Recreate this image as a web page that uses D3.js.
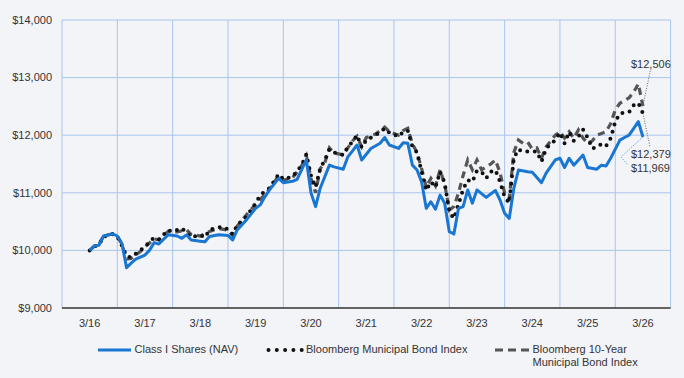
<!DOCTYPE html>
<html>
<head>
<meta charset="utf-8">
<script src="https://cdn.jsdelivr.net/npm/d3@7"></script>
<style>
  body { margin: 0; background: #f3f4f8; }
  svg { display: block; font-family: "Liberation Sans", Arial, sans-serif; }
</style>
</head>
<body>
<div id="chart"></div>
<script>
// months counted from 3/16 (0) to 3/26 (120)
var tickLabels = ["3/16","3/17","3/18","3/19","3/20","3/21","3/22","3/23","3/24","3/25","3/26"];
var yTicks = [9000, 10000, 11000, 12000, 13000, 14000];

var classMonths = [0,1,2,3,5,6,7,8,9,10,12,13,14,15,17,19,20,21,22,24,25,26,28,30,31,32,34,36,37,38,39,41,42,44,45,47,48,49,50,52,53,55,56,58,59,61,63,64,65,67,68,69,70,71,72,73,74,75,76,77,78,79,80,81,82,83,84,86,88,89,90,91,92,93,95,96,98,99,101,102,103,104,105,107,108,110,111,112,113,115,116,117,119,120];
var classValues = [10000,10080,10090,10250,10285,10250,10120,9700,9780,9850,9920,10005,10135,10110,10270,10250,10210,10270,10180,10160,10150,10240,10270,10260,10180,10355,10530,10730,10790,10930,11050,11250,11175,11200,11235,11570,11000,10760,11080,11480,11450,11410,11625,11830,11570,11770,11860,11960,11830,11770,11870,11860,11480,11395,11190,10730,10845,10715,10960,10820,10325,10285,10730,10760,11050,10820,11050,10920,11040,10875,10645,10555,11080,11395,11365,11355,11175,11340,11570,11600,11440,11600,11480,11655,11440,11410,11480,11465,11600,11915,11960,12000,12235,11969];

var muniMonths = [0,1,2,3,5,6,7,8,9,11,12,14,15,17,18,20,21,22,23,24,25,26,27,29,30,31,32,34,36,37,39,41,42,44,46,47,48,49,50,51,52,53,55,56,57,58,59,60,62,64,65,67,68,69,70,71,72,73,74,75,76,77,78,79,80,81,82,83,84,85,86,87,88,89,90,91,92,93,94,96,97,98,99,101,102,103,104,105,106,107,108,109,110,111,112,113,114,115,116,117,118,119,120];
var muniValues = [10000,10070,10090,10240,10280,10240,10080,9900,9880,10000,10065,10225,10190,10355,10325,10385,10305,10225,10250,10270,10225,10355,10385,10410,10365,10280,10440,10585,10820,10960,11080,11325,11235,11280,11480,11670,11300,11095,11420,11570,11755,11700,11655,11800,11885,12000,11785,11915,12000,12120,12045,11975,12060,12080,11800,11700,11365,11040,11190,11095,11365,11175,10670,10555,10800,11060,11220,11190,11385,11365,11250,11365,11395,11190,10930,10820,11600,11755,11715,11715,11715,11540,11770,11915,12045,11860,12060,11905,11975,12100,11960,11770,11790,11850,11810,11945,12235,12380,12390,12400,12520,12560,12379];

var tenYrMonths = [0,1,2,3,5,6,7,8,9,11,12,14,15,17,19,21,22,24,26,28,30,31,32,34,36,38,39,41,42,44,46,47,48,49,50,51,52,53,55,56,57,58,59,60,62,64,65,67,68,69,70,71,72,73,74,75,76,77,78,79,80,81,82,83,84,85,86,87,88,89,90,91,92,93,94,95,96,97,98,99,100,101,102,103,104,105,106,107,108,109,110,111,112,113,114,115,116,117,118,119,120];
var tenYrValues = [10000,10070,10100,10250,10290,10250,10100,9850,9860,9980,10060,10200,10180,10330,10320,10360,10280,10250,10330,10380,10350,10260,10420,10620,10800,10970,11060,11300,11220,11260,11470,11640,11250,11000,11420,11520,11780,11690,11660,11780,11900,11980,11800,11960,12020,12140,12060,12000,12080,12120,11850,11700,11420,11100,11250,11120,11400,11150,10700,10760,11000,11300,11570,11400,11570,11400,11450,11500,11570,11350,11000,10900,11700,11915,11860,11880,11760,11780,11600,11800,11900,12000,12060,11950,12060,11950,12090,11950,11860,11900,12000,12030,12060,12200,12440,12555,12600,12650,12750,12890,12506];

var W = 684, H = 378;
var margin = {left: 62, right: 13.4, top: 20, bottom: 70};

var svg = d3.select("#chart").append("svg")
  .attr("width", W).attr("height", H);

var x = d3.scaleLinear().domain([-6, 126]).range([margin.left, W - margin.right]);
var y = d3.scaleLinear().domain([9000, 14000]).range([H - margin.bottom, margin.top]);

var gridColor = "#a9c5ee";

// horizontal grid
svg.append("g").selectAll("line")
  .data(yTicks.slice(1))
  .enter().append("line")
  .attr("x1", x(-6)).attr("x2", x(126))
  .attr("y1", function(d){ return y(d); }).attr("y2", function(d){ return y(d); })
  .style("stroke", gridColor).style("stroke-width", "1px");

// vertical grid at band edges
var vgrid = d3.range(-6, 127, 12);
svg.append("g").selectAll("line")
  .data(vgrid)
  .enter().append("line")
  .attr("x1", function(d){ return x(d); }).attr("x2", function(d){ return x(d); })
  .attr("y1", y(14000)).attr("y2", y(9000))
  .style("stroke", gridColor).style("stroke-width", "1px");

// bottom axis line
svg.append("line")
  .attr("x1", x(-6)).attr("x2", x(126))
  .attr("y1", y(9000)).attr("y2", y(9000))
  .style("stroke", "#333").style("stroke-width", "1.5px");

// y labels
var fmt = d3.format(",");
svg.append("g").selectAll("text")
  .data(yTicks)
  .enter().append("text")
  .attr("x", 52).attr("y", function(d){ return y(d); })
  .attr("dy", "0.35em")
  .attr("text-anchor", "end")
  .style("font-size", "11px").attr("fill", "#333")
  .text(function(d){ return "$" + fmt(d); });

// x labels
svg.append("g").selectAll("text")
  .data(tickLabels)
  .enter().append("text")
  .attr("x", function(d, i){ return x(i * 12); })
  .attr("y", 323).attr("dy", "0.35em")
  .attr("text-anchor", "middle")
  .style("font-size", "11px").attr("fill", "#333")
  .text(function(d){ return d; });

function pts(ms, vs){ return ms.map(function(m, i){ return [m, vs[i]]; }); }
var line = d3.line().x(function(d){ return x(d[0]); }).y(function(d){ return y(d[1]); });

// 10-year index (dashed)
svg.append("path")
  .attr("d", line(pts(tenYrMonths, tenYrValues)))
  .style("fill", "none").style("stroke", "#555")
  .style("stroke-width", "3.2px").style("stroke-dasharray", "7,5");

// municipal index (dotted)
svg.append("path")
  .attr("d", line(pts(muniMonths, muniValues)))
  .style("fill", "none").style("stroke", "#111")
  .style("stroke-width", "4px").style("stroke-linecap", "round")
  .style("stroke-dasharray", "0,7.5");

// class I shares
svg.append("path")
  .attr("d", line(pts(classMonths, classValues)))
  .style("fill", "none").style("stroke", "#1976d2")
  .style("stroke-width", "3px").style("stroke-linejoin", "round");

// end labels with leader lines
var lastT = tenYrValues[tenYrValues.length - 1];
var lastM = muniValues[muniValues.length - 1];
var lastC = classValues[classValues.length - 1];

svg.append("path")
  .attr("d", "M" + x(120) + "," + y(lastT) + "L650.7,69")
  .style("fill", "none").style("stroke", "#666").style("stroke-width", "1px").style("stroke-dasharray", "1,1.5");
svg.append("path")
  .attr("d", "M" + x(120) + "," + y(lastM) + "L650,147")
  .style("fill", "none").style("stroke", "#666").style("stroke-width", "1px").style("stroke-dasharray", "1,1.5");
svg.append("path")
  .attr("d", "M" + x(120) + "," + y(lastC) + "L621,157L628,165")
  .style("fill", "none").style("stroke", "#4a90e2").style("stroke-width", "1px").style("stroke-dasharray", "1,1.5");

var endLabels = [[lastT, 64], [lastM, 154], [lastC, 168]];
svg.append("g").selectAll("text")
  .data(endLabels)
  .enter().append("text")
  .attr("x", 631).attr("y", function(d){ return d[1]; })
  .attr("dy", "0.35em")
  .style("font-size", "11px").attr("fill", "#333")
  .text(function(d){ return "$" + fmt(d[0]); });

// legend
var lg = svg.append("g");
lg.append("line").attr("x1", 98).attr("x2", 131).attr("y1", 350).attr("y2", 350)
  .style("stroke", "#1976d2").style("stroke-width", "3px");
lg.append("text").attr("x", 134.5).attr("y", 349).attr("dy", "0.35em")
  .style("font-size", "11px").attr("fill", "#333").text("Class I Shares (NAV)");

lg.append("line").attr("x1", 268.5).attr("x2", 302).attr("y1", 350).attr("y2", 350)
  .style("stroke", "#111").style("stroke-width", "4px").style("stroke-linecap", "round")
  .style("stroke-dasharray", "0,8.3");
lg.append("text").attr("x", 306).attr("y", 349).attr("dy", "0.35em")
  .style("font-size", "11px").attr("fill", "#333").text("Bloomberg Municipal Bond Index");

lg.append("line").attr("x1", 495).attr("x2", 529).attr("y1", 350).attr("y2", 350)
  .style("stroke", "#555").style("stroke-width", "3.2px").style("stroke-dasharray", "8,5");
lg.append("text").attr("x", 532.5).attr("y", 349).attr("dy", "0.35em")
  .style("font-size", "11px").attr("fill", "#333").text("Bloomberg 10-Year");
lg.append("text").attr("x", 532.5).attr("y", 362).attr("dy", "0.35em")
  .style("font-size", "11px").attr("fill", "#333").text("Municipal Bond Index");
</script>
</body>
</html>
